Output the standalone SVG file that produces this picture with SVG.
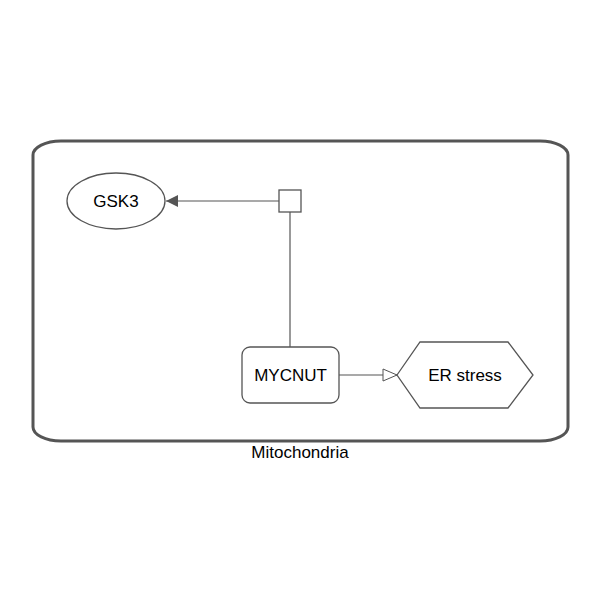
<svg xmlns="http://www.w3.org/2000/svg" width="600" height="600" viewBox="0 0 600 600">
<defs>
<style>
.comp{fill:none;stroke:#555;stroke-width:3}
.node{fill:#fff;stroke:#555;stroke-width:1.3}
.edge{fill:none;stroke:#555;stroke-width:1.2}
text{font-family:"Liberation Sans",Arial,sans-serif;font-size:17px;fill:#000;text-anchor:middle;dominant-baseline:central}
</style>
<marker id="arrFill" viewBox="0 0 12 12" refX="12" refY="6" markerWidth="12" markerHeight="12" markerUnits="userSpaceOnUse" orient="auto">
<path d="M0,0 L12,6 L0,12 Z" fill="#555" stroke="none"/>
</marker>
<marker id="arrOpen" viewBox="0 0 16 14" refX="15" refY="7" markerWidth="16" markerHeight="14" markerUnits="userSpaceOnUse" orient="auto">
<path d="M1,1 L15,7 L1,13 Z" fill="#fff" stroke="#555" stroke-width="1"/>
</marker>
</defs>
<rect width="600" height="600" fill="#fff"/>
<g id="mitochondria">
<path class="comp" d="M33,155 A28,14 0 0 1 61,141 L540,141 A28,14 0 0 1 568,155 L568,427 A28,14 0 0 1 540,441 L61,441 A28,14 0 0 1 33,427 Z"/>
<text x="300" y="452">Mitochondria</text>
</g>
<g id="connectors">
<line class="edge" x1="279" y1="201" x2="166" y2="201" marker-end="url(#arrFill)"/>
<line class="edge" x1="290" y1="212" x2="290" y2="347"/>
<line class="edge" x1="339" y1="375" x2="397" y2="375" marker-end="url(#arrOpen)"/>
</g>
<g id="process">
<rect class="node" x="279" y="190" width="22" height="22"/>
</g>
<g id="GSK3">
<ellipse class="node" cx="116" cy="201" rx="49" ry="28"/>
<text x="116" y="201">GSK3</text>
</g>
<g id="MYCNUT">
<rect class="node" x="242" y="347" width="97" height="56" rx="8"/>
<text x="290.5" y="375">MYCNUT</text>
</g>
<g id="ERstress">
<polygon class="node" points="397,375 420,342 508,342 533,375 508,408 420,408"/>
<text x="465" y="375">ER stress</text>
</g>
</svg>
